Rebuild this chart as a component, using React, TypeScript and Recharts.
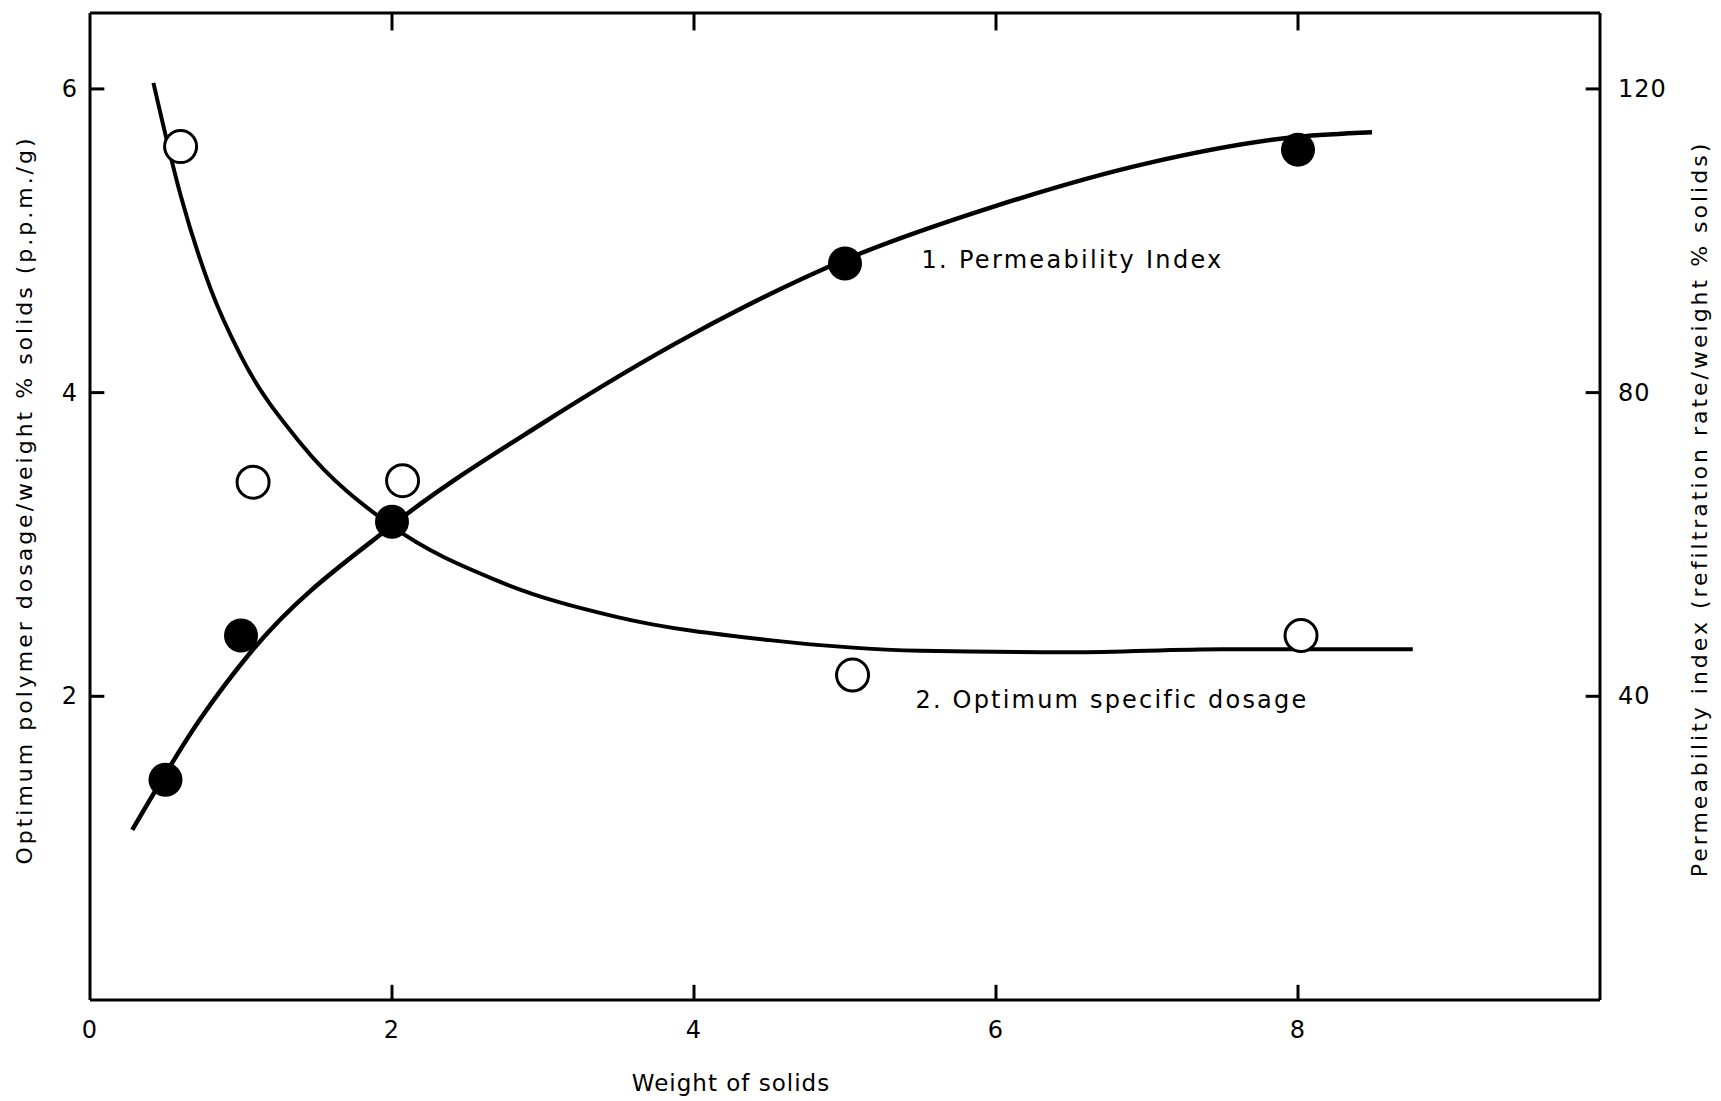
import {
  ComposedChart,
  Line,
  Scatter,
  XAxis,
  YAxis,
  ReferenceDot,
  ReferenceLine,
} from "recharts";

// axis ticks
const xTicks = [0, 2, 4, 6, 8];
const dosageTicks = [2, 4, 6];
const permTicks = [40, 80, 120];

// measured points: 1. permeability index (filled, right axis)
const permSolids = [0.5, 1.0, 2.0, 5.0, 8.0];
const permValues = [29, 48, 63, 97, 112];

// measured points: 2. optimum specific dosage (open, left axis)
const doseSolids = [0.6, 1.08, 2.07, 5.05, 8.02];
const doseValues = [5.62, 3.41, 3.42, 2.14, 2.4];

// hand-drawn fitted curves
const permCurveX = [0.28, 0.73, 1.06, 2.0, 3.0, 4.0, 5.0, 6.0, 7.0, 8.0, 8.49];
const permCurveY = [22.4, 37, 45.7, 62.5, 76, 87.8, 97.5, 104.6, 110.2, 113.7, 114.3];
const doseCurveX = [0.42, 0.6, 0.8, 1.0, 1.4, 2.0, 2.7, 3.5, 4.5, 5.5, 6.5, 7.5, 8.76];
const doseCurveY = [6.04, 5.3, 4.68, 4.24, 3.66, 3.12, 2.76, 2.52, 2.37, 2.3, 2.29, 2.31, 2.31];

const zip = (xs: number[], ys: number[]) => xs.map((x, i) => ({ x, y: ys[i] }));

const FONT = "DejaVu Sans";
const INK = "#000";
const axisStyle = { stroke: INK, strokeWidth: 3 };

const X_MAX = 10;
const DOSE_MAX = 6.5;
const PERM_MAX = 130;

// frame of the plot area, in chart pixels
const W = 1705;
const H = 1092;
const PLOT_LEFT = 82;
const PLOT_RIGHT = 1592;
const PLOT_TOP = 5;
const PLOT_BOTTOM = 992;

// inward tick mark lengths, in axis units
const X_TICK = 0.1;
const Y_TICK = 0.095;

const tickFont = {
  fill: INK,
  fontSize: 24,
  fontFamily: FONT,
  letterSpacing: 1,
};

const BottomTick = (p: any) => (
  <text x={p.x} y={PLOT_BOTTOM + 20} textAnchor="middle" dominantBaseline="hanging" {...tickFont}>
    {p.payload.value}
  </text>
);
const LeftTick = (p: any) => (
  <text x={PLOT_LEFT - 12} y={p.y} textAnchor="end" dominantBaseline="central" {...tickFont}>
    {p.payload.value}
  </text>
);
const RightTick = (p: any) => (
  <text x={PLOT_RIGHT + 18} y={p.y} textAnchor="start" dominantBaseline="central" {...tickFont}>
    {p.payload.value}
  </text>
);

const FilledDot = (p: any) => <circle cx={p.cx} cy={p.cy} r={17} fill={INK} />;
const OpenDot = (p: any) => (
  <circle cx={p.cx} cy={p.cy} r={16} fill="#fff" stroke={INK} strokeWidth={3} />
);

const tickMark = { stroke: INK, strokeWidth: 3, ifOverflow: "visible" as const };

export default function App() {
  const inner = xTicks.filter((v) => v > 0);

  return (
    <div style={{ width: W, height: H, background: "#fff" }}>
      <ComposedChart
        width={W}
        height={H}
        margin={{ top: 0, right: 0, left: 0, bottom: 0 }}
        style={{ fontFamily: FONT }}
      >
        <XAxis
          dataKey="x"
          type="number"
          domain={[0, X_MAX]}
          ticks={xTicks}
          height={H - PLOT_BOTTOM}
          axisLine={axisStyle}
          tickLine={false}
          tick={BottomTick}
          label={{
            content: () => (
              <text x={723} y={1075} textAnchor="middle" dominantBaseline="central"
                fontSize={23} fontFamily={FONT} letterSpacing={1} fill={INK}>
                Weight of solids
              </text>
            ),
          }}
        />
        <XAxis
          xAxisId="top"
          orientation="top"
          type="number"
          domain={[0, X_MAX]}
          height={PLOT_TOP}
          axisLine={axisStyle}
          tickLine={false}
          tick={false}
        />
        <YAxis
          yAxisId="left"
          type="number"
          domain={[0, DOSE_MAX]}
          ticks={dosageTicks}
          width={PLOT_LEFT}
          axisLine={axisStyle}
          tickLine={false}
          tick={LeftTick}
          label={{
            content: () => (
              <text x={16} y={492} transform="rotate(-90 16 492)" textAnchor="middle"
                dominantBaseline="central" fontSize={22} fontFamily={FONT}
                letterSpacing={3} fill={INK}>
                Optimum polymer dosage/weight % solids (p.p.m./g)
              </text>
            ),
          }}
        />
        <YAxis
          yAxisId="right"
          orientation="right"
          type="number"
          domain={[0, PERM_MAX]}
          ticks={permTicks}
          width={W - PLOT_RIGHT}
          axisLine={axisStyle}
          tickLine={false}
          tick={RightTick}
          label={{
            content: () => (
              <text x={1691} y={501} transform="rotate(-90 1691 501)" textAnchor="middle"
                dominantBaseline="central" fontSize={22} fontFamily={FONT}
                letterSpacing={3} fill={INK}>
                Permeability index (refiltration rate/weight % solids)
              </text>
            ),
          }}
        />

        {/* inward tick marks on all four sides */}
        {inner.map((v) => (
          <ReferenceLine key={"b" + v} yAxisId="left" {...tickMark}
            segment={[{ x: v, y: 0 }, { x: v, y: X_TICK }]} />
        ))}
        {inner.map((v) => (
          <ReferenceLine key={"t" + v} yAxisId="left" {...tickMark}
            segment={[{ x: v, y: DOSE_MAX }, { x: v, y: DOSE_MAX - X_TICK * 1.15 }]} />
        ))}
        {dosageTicks.map((v) => (
          <ReferenceLine key={"l" + v} yAxisId="left" {...tickMark}
            segment={[{ x: 0, y: v }, { x: Y_TICK, y: v }]} />
        ))}
        {permTicks.map((v) => (
          <ReferenceLine key={"r" + v} yAxisId="right" {...tickMark}
            segment={[{ x: X_MAX, y: v }, { x: X_MAX - Y_TICK, y: v }]} />
        ))}

        <Line
          yAxisId="right"
          data={zip(permCurveX, permCurveY)}
          dataKey="y"
          type="monotone"
          stroke={INK}
          strokeWidth={4.5}
          dot={false}
          isAnimationActive={false}
        />
        <Line
          yAxisId="left"
          data={zip(doseCurveX, doseCurveY)}
          dataKey="y"
          type="monotone"
          stroke={INK}
          strokeWidth={4}
          dot={false}
          isAnimationActive={false}
        />
        <Scatter
          yAxisId="right"
          data={zip(permSolids, permValues)}
          dataKey="y"
          shape={FilledDot}
          isAnimationActive={false}
        />
        <Scatter
          yAxisId="left"
          data={zip(doseSolids, doseValues)}
          dataKey="y"
          shape={OpenDot}
          isAnimationActive={false}
        />

        <ReferenceDot
          yAxisId="right"
          x={5.5}
          y={97.6}
          r={1}
          fill="none"
          stroke="none"
          label={{
            value: "1.  Permeability Index",
            position: "right",
            offset: 0,
            fill: INK,
            fontSize: 24,
            fontFamily: FONT,
            letterSpacing: 2.3,
          }}
        />
        <ReferenceDot
          yAxisId="left"
          x={5.46}
          y={1.98}
          r={1}
          fill="none"
          stroke="none"
          label={{
            value: "2.  Optimum specific dosage",
            position: "right",
            offset: 0,
            fill: INK,
            fontSize: 24,
            fontFamily: FONT,
            letterSpacing: 2.2,
          }}
        />
      </ComposedChart>
    </div>
  );
}
